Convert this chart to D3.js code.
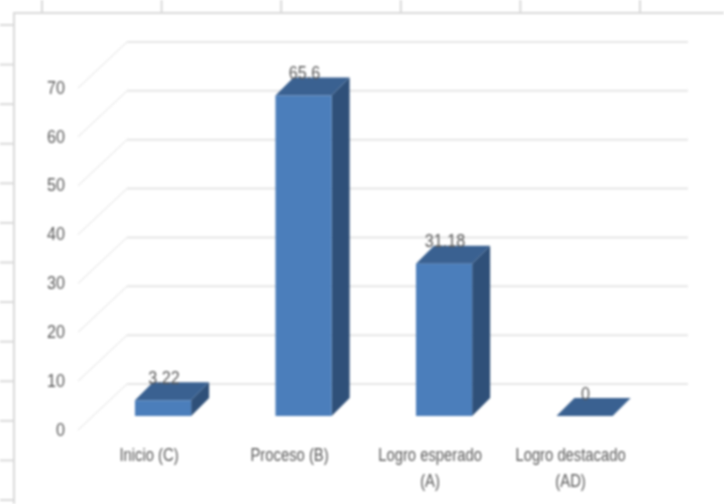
<!DOCTYPE html>
<html>
<head>
<meta charset="utf-8">
<script src="https://cdn.jsdelivr.net/npm/d3@7"></script>
<style>
  html, body { margin: 0; padding: 0; background: #fff; }
  svg { display: block; filter: blur(0.8px); }
  text { font-family: "Liberation Sans", sans-serif; fill: #595959; }
</style>
</head>
<body>
<svg id="chart" width="724" height="504"></svg>
<script>
const categories = [['Inicio (C)'], ['Proceso (B)'], ['Logro esperado', '(A)'], ['Logro destacado', '(AD)']];
const values = [3.22, 65.6, 31.18, 0];
const valueLabels = ['3.22', '65.6', '31.18', '0'];
const yTicks = [0, 10, 20, 30, 40, 50, 60, 70];

const svg = d3.select('#chart');
const wall = { dx: 49, dy: -46 };
const floor = { dx: 0, dy: -14 };
const depth = { dx: 18, dy: -18 };

const x = d3.scaleBand().domain(d3.range(categories.length)).range([92.8, 654.8]).paddingInner(0.6).paddingOuter(0.3);
const y = d3.scaleLinear().domain([0, 70]).range([430, 88]);

// spreadsheet cells behind the chart
const colScale = d3.scaleLinear().domain([0, 5]).range([42, 640]);
const rowScale = d3.scaleLinear().domain([0, 12]).range([25, 500]);
const cells = svg.append('g').attr('stroke', '#d9d9d9').attr('stroke-width', 2);
cells.selectAll('.col').data(d3.range(6)).join('line')
  .attr('x1', colScale).attr('x2', colScale).attr('y1', 0).attr('y2', 13);
cells.selectAll('.row').data(d3.range(13)).join('line')
  .attr('x1', 0).attr('x2', 14).attr('y1', rowScale).attr('y2', rowScale);
cells.append('path').attr('fill', 'none').attr('d', 'M14,504V13H724');

// gridlines: slanted side wall, then back wall
const grid = svg.append('g').attr('fill', 'none');
yTicks.forEach((t) => {
  grid.append('line')
    .attr('x1', 78).attr('y1', y(t)).attr('x2', 78 + wall.dx).attr('y2', y(t) + wall.dy)
    .attr('stroke', '#dedede').attr('stroke-width', 1);
  grid.append('line')
    .attr('x1', 78 + wall.dx).attr('y1', y(t) + wall.dy).attr('x2', 688).attr('y2', y(t) + wall.dy)
    .attr('stroke', '#e6e6e6').attr('stroke-width', 2);
});

// labels in the reference are a condensed face, so squeeze them horizontally
svg.append('g').selectAll('text').data(yTicks).join('text')
  .attr('transform', (d) => `translate(65, ${y(d) - 1}) scale(0.85, 1)`)
  .attr('dy', '0.35em')
  .attr('text-anchor', 'end').attr('font-size', 19)
  .text((d) => d);

// bars
const bars = svg.append('g').selectAll('g').data(values).join('g');
const base = y(0) + floor.dy;
const barTop = (d) => y(d) + floor.dy;

bars.append('path').attr('fill', '#2f5079').attr('d', (d, i) => {
  const x1 = x(i) + x.bandwidth();
  const p = d3.path();
  p.moveTo(x1, barTop(d));
  p.lineTo(x1 + depth.dx, barTop(d) + depth.dy);
  p.lineTo(x1 + depth.dx, base + depth.dy);
  p.lineTo(x1, base);
  p.closePath();
  return p.toString();
});
bars.append('path').attr('fill', '#3a6191').attr('d', (d, i) => {
  const x0 = x(i);
  const x1 = x0 + x.bandwidth();
  const p = d3.path();
  p.moveTo(x0, barTop(d));
  p.lineTo(x0 + depth.dx, barTop(d) + depth.dy);
  p.lineTo(x1 + depth.dx, barTop(d) + depth.dy);
  p.lineTo(x1, barTop(d));
  p.closePath();
  return p.toString();
});
bars.append('rect').attr('fill', '#4b7ebb')
  .attr('x', (d, i) => x(i)).attr('width', x.bandwidth())
  .attr('y', (d) => barTop(d)).attr('height', (d) => base - barTop(d));

// value labels
svg.append('g').selectAll('text').data(values).join('text')
  .attr('transform', (d, i) => `translate(${x(i) + x.bandwidth() / 2 + 1}, ${barTop(d) - 23}) scale(0.85, 1)`)
  .attr('dy', '0.35em')
  .attr('text-anchor', 'middle').attr('font-size', 19)
  .text((d, i) => valueLabels[i]);

// category labels
const catLabels = svg.append('g').selectAll('text').data(categories).join('text')
  .attr('transform', (d, i) => `translate(${x(i) + x.bandwidth() / 2 - 14}, 461) scale(0.78, 1)`)
  .attr('text-anchor', 'middle').attr('font-size', 19);
catLabels.selectAll('tspan').data((d) => d.map((line, j) => ({ line, j }))).join('tspan')
  .attr('x', 0)
  .attr('y', (d) => d.j * 26)
  .text((d) => d.line);
</script>
</body>
</html>
